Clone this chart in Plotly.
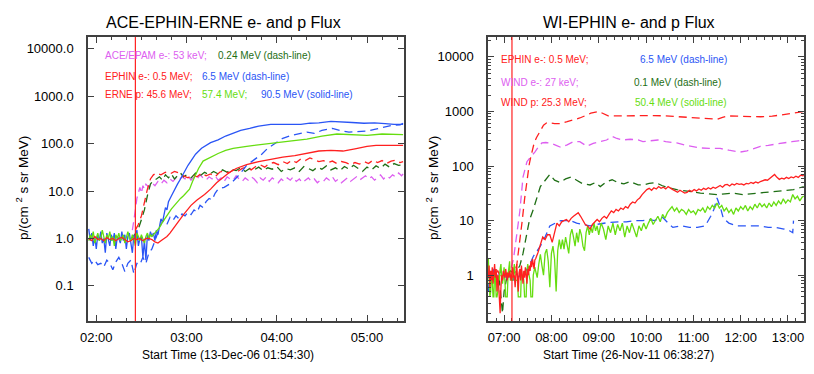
import pandas as pd
import plotly.graph_objects as go

# ---- data: times are minutes after midnight, values are fluxes ----
# left panel, 13-Dec-2006
l_day = "2006-12-13"
l_event = 146  # 02:26

l_p90_t = list(range(115, 169)) + [170, 172, 174, 176, 181, 186, 190, 196, 201, 206,
                                   211, 216, 222, 228, 236, 246, 256, 262, 268, 276,
                                   282, 290, 298, 305, 312, 318, 324]
l_p90_v = [1.6, 0.9, 1.3, 0.7, 1.1, 0.6, 1.2, 0.9, 1.4, 0.8,
           1.0, 0.5, 1.3, 1.0, 0.7, 1.2, 0.9, 1.3, 0.6, 1.1,
           1.0, 0.8, 1.4, 0.9, 1.2, 0.6, 1.1, 1.3, 0.8, 0.5,
           1.2, 0.9, 1.5, 0.7, 1.0, 1.1, 0.4, 0.9, 0.35, 1.2,
           0.9, 1.4, 1.1, 1.3, 0.9, 1.5, 1.2, 2.0, 2.6, 2.2,
           3.5, 4.5, 4.0, 6,
           8, 11, 14, 18, 35, 60, 80, 105, 120, 145,
           165, 190, 210, 235, 255, 255, 255, 270, 275, 295,
           285, 280, 270, 275, 265, 255, 255]

l_p57_t = list(range(115, 158)) + [158, 160, 162, 164, 166, 168, 170, 172, 174, 176,
                                   178, 180, 182, 184, 186, 188, 191, 196, 201, 206,
                                   211, 220, 230, 240, 250, 260, 270, 280, 290, 300,
                                   310, 318, 324]
l_p57_v = [0.9, 1.2, 1.0, 1.4, 0.8, 1.1, 1.3, 0.9, 1.0, 1.5,
           1.1, 0.8, 1.2, 1.0, 1.4, 0.9, 1.1, 0.7, 1.2, 1.0,
           1.3, 0.9, 1.0, 1.2, 0.8, 1.1, 1.4, 1.0, 0.9, 1.2,
           1.0, 0.7, 1.3, 1.1, 0.9, 1.2, 1.0, 0.8, 1.1, 1.3,
           1.0, 1.2, 1.1,
           1.2, 1.4, 1.7, 2.2, 2.8, 3.4, 4.2, 5, 6, 7,
           8, 9.5, 11, 16, 22, 30, 43, 52, 62, 72,
           80, 88, 97, 105, 115, 125, 145, 160, 155, 150,
           160, 158, 155]

l_p45_t = list(range(115, 172, 2)) + [174, 178, 183, 187, 192, 196, 200, 204, 208, 213,
                                      220, 228, 236, 244, 252, 260, 268, 276, 284, 292,
                                      300, 306, 315, 324]
l_p45_v = [1.0, 0.9, 1.1, 0.95, 1.0, 0.9, 1.05, 0.95, 1.0, 0.9,
           1.0, 1.05, 0.95, 0.85, 0.9, 1.0, 0.95, 1.0, 0.9, 1.0,
           1.0, 0.95, 0.85, 0.8, 0.9, 1.0, 1.1, 1.3, 1.6,
           2.2, 3.2, 5, 6.5, 8.5, 11, 15, 19, 24, 30,
           36, 42, 47, 52, 56, 62, 70, 72, 70, 78,
           88, 92, 92, 92]

l_e65_t = list(range(115, 202, 2)) + [205, 210, 215, 220, 225, 230, 234, 240, 244, 250,
                                      255, 260, 265, 270, 277, 282, 288, 294, 300, 305,
                                      310, 316, 322, 324]
l_e65_v = [0.4, 0.3, 0.35, 0.28, 0.3, 0.25, 0.35, 0.3, 0.22, 0.32,
           0.4, 0.3, 0.2, 0.3, 0.35, 0.18, 0.3, 0.28, 0.4, 0.3,
           0.5, 0.6, 0.9, 1.4, 2.0, 2.5, 2.0, 2.8, 2.4, 3.0,
           2.6, 3.3, 3.0, 3.6, 3.2, 4.0, 3.6, 5.0, 4.5, 6,
           7, 6.5, 9, 11,
           12, 15, 22, 35, 45, 60, 80, 110, 130, 150,
           160, 175, 165, 190, 210, 190, 175, 180, 185, 200,
           220, 240, 250, 270]

l_e05_t = list(range(146, 161, 2)) + list(range(163, 323, 3)) + [324]
l_e05_v = [1.5, 2, 3, 6, 11, 18, 22, 24,
           22, 25, 23, 26, 24, 21, 19, 22, 20, 24,
           21, 23, 20, 25, 27, 24, 28, 26, 30, 32,
           28, 33, 36, 32, 38, 40, 36, 42, 38, 45,
           40, 48, 44, 50, 46, 42, 44, 40, 43, 38,
           42, 40, 36, 40, 37, 42, 38, 45, 40, 44,
           38, 43, 45, 40, 42]

l_e024_t = list(range(144, 181, 2)) + list(range(183, 325, 3))
l_e024_v = [1.0, 1.3, 1.6, 2.5, 4, 8, 14, 17, 18, 20, 17, 22, 19, 23, 18, 21, 24, 20, 22,
            19, 24, 21, 25, 22, 26, 23, 28, 25, 29,
            27, 31, 26, 30, 28, 32, 27, 31, 29, 33,
            26, 30, 28, 31, 26, 33, 30, 27, 32, 29,
            34, 28, 31, 27, 33, 29, 35, 30, 26, 32,
            28, 34, 30, 37, 32, 38, 35, 36]

l_ace53_t = list(range(144, 154)) + list(range(155, 324, 2)) + [324]
l_ace53_v = [1.5, 2.3, 4, 7, 10, 12, 9, 13, 11, 14,
             12, 15, 13, 16, 14, 17, 15, 18, 16, 19,
             17, 20, 18, 21, 17, 20, 18, 22, 19, 17,
             20, 18, 21, 17, 19, 16, 20, 18, 17, 21,
             18, 16, 19, 17, 20, 18, 15, 19, 17, 20,
             16, 19, 17, 15, 18, 16, 19, 17, 20, 16,
             18, 15, 17, 19, 16, 18, 15, 17, 16, 19,
             17, 20, 16, 18, 15, 17, 19, 16, 18, 20,
             17, 19, 21, 18, 20, 17, 19, 22, 18, 21,
             19, 22, 20, 24, 21,
             23]

# right panel, 26-Nov-2011
r_day = "2011-11-26"
r_event = 430  # 07:10

r_e05_t = [400, 404, 408, 412, 416, 420, 424, 428, 432, 436,
           440, 443, 446, 448, 450, 452, 454, 456, 458, 461,
           464, 467, 470, 474, 478, 484, 491, 500, 508, 516,
           524, 530, 540, 546, 552, 560, 575, 596, 610, 625,
           639, 650, 660, 670, 680, 690, 697, 703, 715, 730,
           745, 760, 775, 787, 795, 800]
r_e05_v = [1.1, 0.9, 1.0, 1.2, 0.9, 1.0, 1.1, 0.8, 1.0, 1.5,
           4, 10, 25, 42, 70, 110, 150, 200, 260, 330,
           400, 480, 560, 620, 620, 600, 600, 650, 700, 760,
           850, 930, 1000, 900, 830, 830, 840, 850, 840, 830,
           800, 790, 770, 740, 720, 720, 780, 830, 820, 800,
           800, 820, 870, 940, 970, 1000]

r_w27_t = [400, 404, 408, 412, 416, 420, 424, 428, 432, 436,
           440, 444, 449, 454, 459, 464, 468, 473, 478, 486,
           492, 500, 508, 516, 522, 525, 533, 542, 550, 557,
           563, 570, 580, 590, 596, 605, 615, 625, 639, 650,
           660, 669, 680, 694, 705, 712, 719, 728, 735, 745,
           755, 765, 774, 785, 793, 800]
r_w27_v = [1.0, 1.1, 0.9, 1.0, 1.2, 0.9, 1.0, 1.2, 2, 5,
           15, 63, 120, 150, 180, 230, 265, 270, 265, 240,
           220, 245, 280, 280, 240, 230, 260, 280, 300, 350,
           320, 300, 310, 300, 280, 290, 300, 280, 265, 240,
           225, 215, 210, 210, 195, 185, 180, 190, 205, 230,
           240, 250, 265, 280, 290, 300]

r_e65_t = list(range(400, 441, 2)) + [444, 448, 452, 457, 462, 466, 472, 478, 485, 492,
                                      498, 504, 512, 520, 529, 537, 545, 554, 565, 575,
                                      585, 596, 605, 610, 615, 621, 628, 634, 645, 655,
                                      665, 675, 682, 686, 690, 694, 698, 705, 715, 725,
                                      735, 745, 755, 765, 775, 782, 786, 787]
r_e65_v = [0.5, 1.2, 0.8, 1.3, 0.9, 1.1, 0.7, 1.0, 1.2, 0.9,
           1.1, 1.0, 0.8, 1.0, 0.9, 1.1, 0.8, 1.0, 1.1, 0.9,
           1.0,
           1.0, 1.2, 1.5, 2.2, 2.8, 3.4, 5, 8, 9, 10,
           10, 10, 9, 8.5, 8, 8.5, 9, 9.3, 9.5, 9.5,
           10, 10, 10.5, 10, 10.5, 11.5, 9, 7.5, 8, 7.5,
           7.5, 8, 12, 16, 26, 18, 11, 9, 8, 8,
           8, 8, 7.5, 7.5, 7, 6.5, 6, 10]

r_w01_t = [400, 404, 408, 412, 414, 416, 418, 420, 424, 428,
           432, 436, 440, 444, 447, 452, 457, 462, 466, 470,
           478, 484, 491, 498, 505, 512, 519, 529, 536, 542,
           550, 557, 564, 572, 580, 590, 596, 604, 612, 620,
           628, 639, 650, 660, 669, 680, 690, 700, 710, 723,
           733, 745, 755, 765, 775, 787, 795, 800]
r_w01_v = [1.1, 0.8, 1.2, 0.9, 0.8, 0.4, 0.2, 0.5, 1.0, 1.2,
           1.1, 1.2, 1.5, 2.5, 4.5, 10, 16, 28, 42, 50,
           70, 55, 50, 58, 63, 55, 48, 45, 50, 42,
           52, 56, 50, 47, 52, 45, 45, 48, 50, 44,
           40, 37, 35, 33, 32, 31, 30, 31, 32, 30,
           31, 32, 34, 35, 36, 37, 40, 42]

r_p25_t = list(range(400, 460)) + list(range(460, 800, 3)) + [800]
r_p25_v = [0.9, 1.5, 0.6, 1.2, 0.8, 1.4, 0.7, 1.1, 1.6, 0.9,
           1.3, 0.5, 1.0, 0.7, 0.3, 0.2, 0.6, 1.0, 0.8, 1.2,
           1.0, 0.9, 1.3, 1.0, 0.8, 1.1, 0.9, 1.2, 1.0, 0.8,
           1.1, 1.4, 0.9, 1.0, 0.6, 1.2, 1.6, 0.9, 0.5, 1.1,
           1.3, 0.8, 1.5, 1.0, 0.7, 1.2, 0.9, 1.4, 1.1, 0.7,
           1.3, 1.0, 1.5, 1.2, 1.8, 1.4, 2.0, 1.6, 1.3, 1.9,
           2.0, 2.6, 3.5, 5, 4.5, 5.5, 5.5, 4, 6, 9,
           8, 9.5, 10, 10.5, 9.5, 11, 12, 13, 14, 12,
           10, 8.5, 8, 7, 8.5, 9.5, 10.5, 9.5, 11, 12,
           11, 13, 15, 14, 16, 15, 17, 16, 18, 17,
           20, 22, 21, 24, 26, 30, 34, 37, 39, 36,
           40, 38, 42, 39, 41, 38, 42, 40, 37, 35,
           33, 36, 34, 32, 33, 36, 34, 37, 35, 38,
           36, 39, 37, 40, 38, 41, 39, 42, 44, 41,
           45, 46, 43, 47, 45, 48, 46, 47, 45, 48,
           47, 50, 48, 51, 49, 52, 54, 56, 55, 60,
           66, 70, 62, 57, 60, 58, 62, 59, 63, 61,
           65, 62, 68, 66,
           68]

r_p50_t = list(range(400, 460)) + list(range(460, 541, 2)) + list(range(543, 799, 3)) + [800]
r_p50_v = [2.0, 0.9, 0.4, 0.5, 1.1, 0.8, 0.4, 0.4, 1.2, 0.9,
           0.4, 0.4, 0.5, 1.0, 0.8, 1.3, 1.6, 0.9, 0.7, 1.0,
           1.4, 0.8, 0.4, 0.4, 0.4, 1.0, 1.5, 1.8, 0.8, 0.9,
           0.8, 0.8, 1.2, 1.6, 0.9, 0.8, 0.8, 0.8, 0.4, 0.4,
           0.4, 0.4, 1.2, 0.9, 1.0, 0.8, 0.4, 0.4, 0.4, 1.2,
           1.6, 1.1, 0.9, 0.8, 0.4, 0.4, 0.4, 1.0, 1.2, 1.4,
           1.2, 0.9, 1.6, 2.4, 1.5, 1.0, 2.5, 3.0, 1.8, 0.6,
           2.5, 3.4, 2.0, 0.5, 2.8, 4.5, 3.0, 4.5, 3.0, 5.0,
           3.5, 2.5, 5.5, 7, 5, 3.4, 6, 4, 7, 5.5,
           3.4, 2.8, 6, 8, 5.5, 7.5, 6, 9, 6.5, 8,
           5.5,
           9, 7, 4.5, 8, 6, 9, 5.5, 8.5, 6.5, 9,
           5, 8, 6, 9, 7, 5, 8, 6.5, 9, 7,
           9, 11, 8.5, 10, 12, 9.5, 13, 11, 14, 16,
           18, 15, 17, 14, 16, 15, 13, 16, 14, 15,
           13, 16, 15, 17, 14, 18, 16, 19, 17, 21,
           17, 19, 15, 17, 14, 16, 13, 17, 15, 18,
           16, 19, 15, 18, 16, 20, 17, 21, 18, 20,
           17, 21, 18, 22, 19, 23, 20, 25, 21, 24,
           22, 30, 25, 28, 23, 27,
           28]

l_labels = ["ACE/EPAM e-: 53 keV;", "0.24 MeV (dash-line)", "EPHIN e-: 0.5 MeV;",
            "6.5 MeV (dash-line)", "ERNE p: 45.6 MeV;", "57.4 MeV;", "90.5 MeV (solid-line)"]
r_labels = ["EPHIN e-: 0.5 MeV;", "6.5 MeV (dash-line)", "WIND e-: 27 keV;",
            "0.1 MeV (dash-line)", "WIND p: 25.3 MeV;", "50.4 MeV (solid-line)"]

l_yticks = [0.1, 1, 10, 100, 1000, 10000]
l_yticktext = ["0.1", "1.0", "10.0", "100.0", "1000.0", "10000.0"]
r_yticks = [1, 10, 100, 1000, 10000]
r_yticktext = ["1", "10", "100", "1000", "10000"]

# ---- styling ----
FONT = "Liberation Sans, Arial, sans-serif"
MAG = "#dd5ef0"
RED = "#ff2020"
BLUE = "#2a55f5"
LGREEN = "#66dd10"
DGREEN = "#1e6e14"
DASH = "8px,5px"
OFF = 8                  # page body margin
W, H = 814 - OFF, 374 - 2 * OFF


def fx(px):
    return (px - OFF) / W


def fy(py):
    return 1 - (py - OFF) / H


def tt(day, minutes):
    return pd.Timestamp(day) + pd.to_timedelta(pd.Series(minutes, dtype=float), unit="min")


def line(day, t, v, color, dash, xa, ya):
    return go.Scatter(x=tt(day, t), y=v, mode="lines", xaxis=xa, yaxis=ya,
                      line=dict(color=color, width=1.3, dash=dash), showlegend=False)


fig = go.Figure()
# left
fig.add_trace(line(l_day, l_ace53_t, l_ace53_v, MAG, DASH, "x", "y"))
fig.add_trace(line(l_day, l_e024_t, l_e024_v, DGREEN, DASH, "x", "y"))
fig.add_trace(line(l_day, l_e05_t, l_e05_v, RED, DASH, "x", "y"))
fig.add_trace(line(l_day, l_e65_t, l_e65_v, BLUE, DASH, "x", "y"))
fig.add_trace(line(l_day, l_p90_t, l_p90_v, BLUE, "solid", "x", "y"))
fig.add_trace(line(l_day, l_p57_t, l_p57_v, LGREEN, "solid", "x", "y"))
fig.add_trace(line(l_day, l_p45_t, l_p45_v, RED, "solid", "x", "y"))
# right
fig.add_trace(line(r_day, r_w27_t, r_w27_v, MAG, DASH, "x2", "y2"))
fig.add_trace(line(r_day, r_w01_t, r_w01_v, DGREEN, DASH, "x2", "y2"))
fig.add_trace(line(r_day, r_e65_t, r_e65_v, BLUE, DASH, "x2", "y2"))
fig.add_trace(line(r_day, r_e05_t, r_e05_v, RED, DASH, "x2", "y2"))
fig.add_trace(line(r_day, r_p50_t, r_p50_v, LGREEN, "solid", "x2", "y2"))
fig.add_trace(line(r_day, r_p25_t, r_p25_v, RED, "solid", "x2", "y2"))

# event lines
for xa, day, ev in [("x", l_day, l_event), ("x2", r_day, r_event)]:
    xe = tt(day, [ev])[0]
    fig.add_shape(type="line", xref=xa, yref=xa.replace("x", "y") + " domain", x0=xe, x1=xe,
                  y0=0, y1=1, line=dict(color=RED, width=1.2))

axcol = "#404040"
xcommon = dict(type="date", showline=True, mirror="allticks", linecolor=axcol, linewidth=1.5,
               ticks="inside", ticklen=6, tickcolor=axcol, showgrid=False, zeroline=False,
               tickformat="%H:%M", dtick=3600000, tickfont=dict(size=13, color="black"),
               ticklabelstandoff=4, ticklabeloverflow="allow", automargin=False,
               minor=dict(ticks="inside", ticklen=3, dtick=600000, tickcolor=axcol, showgrid=False))
ycommon = dict(type="log", showline=True, mirror="allticks", linecolor=axcol, linewidth=1.5,
               ticks="inside", ticklen=6, tickcolor=axcol, showgrid=False, zeroline=False,
               tickfont=dict(size=13, color="black"), ticklabelstandoff=10, automargin=False)

fig.update_layout(
    width=W, height=H, autosize=False, margin=dict(l=0, r=0, t=0, b=0, pad=0),
    paper_bgcolor="white", plot_bgcolor="white",
    font=dict(family=FONT, color="black"),
    xaxis=dict(xcommon, domain=[fx(88), fx(404)], anchor="y",
               range=[tt(l_day, [114.5])[0], tt(l_day, [324.6])[0]]),
    yaxis=dict(ycommon, domain=[fy(321), fy(37)], anchor="x", range=[-1.74, 4.25],
               tickvals=l_yticks, ticktext=l_yticktext),
    xaxis2=dict(xcommon, domain=[fx(488), fx(804)], anchor="y2",
                range=[tt(r_day, [399.6])[0], tt(r_day, [800.3])[0]]),
    yaxis2=dict(ycommon, domain=[fy(321), fy(37)], anchor="x2", range=[-0.84, 4.365],
                tickvals=r_yticks, ticktext=r_yticktext,
                minor=dict(ticks="inside", ticklen=3, dtick="D1", tickcolor=axcol, showgrid=False)),
)

# titles, axis titles
ytitle = "p/(cm <sup>2</sup> s sr MeV)"
for s, cx in [("ACE-EPHIN-ERNE e- and p Flux", 223), ("WI-EPHIN e- and p Flux", 629)]:
    fig.add_annotation(text=s, x=fx(cx), y=fy(22), xref="paper", yref="paper",
                       xanchor="center", yanchor="middle", showarrow=False, font=dict(size=16))
for s, cx in [("Start Time (13-Dec-06 01:54:30)", 228), ("Start Time (26-Nov-11 06:38:27)", 628)]:
    fig.add_annotation(text=s, x=fx(cx), y=fy(355), xref="paper", yref="paper",
                       xanchor="center", yanchor="middle", showarrow=False, font=dict(size=12))
for cx in [22, 432]:
    fig.add_annotation(text=ytitle, x=fx(cx), y=fy(188), xref="paper", yref="paper",
                       xanchor="center", yanchor="middle", textangle=-90, showarrow=False,
                       font=dict(size=13.5))

# in-plot labels
l_pos = [(103, 56), (216, 56), (103, 76), (200, 76), (103, 95), (200, 95), (259, 95)]
l_col = [MAG, DGREEN, RED, BLUE, RED, LGREEN, BLUE]
r_pos = [(499, 60), (638, 60), (499, 82), (632, 82), (499, 102), (633, 102)]
r_col = [RED, BLUE, MAG, DGREEN, RED, LGREEN]
for labels, pos, cols in [(l_labels, l_pos, l_col), (r_labels, r_pos, r_col)]:
    for s, (px, py), c in zip(labels, pos, cols):
        fig.add_annotation(text=s, x=fx(px), y=fy(py), xref="paper", yref="paper",
                           xanchor="left", yanchor="middle", showarrow=False,
                           font=dict(size=10, color=c))

fig.write_html("out.html")
